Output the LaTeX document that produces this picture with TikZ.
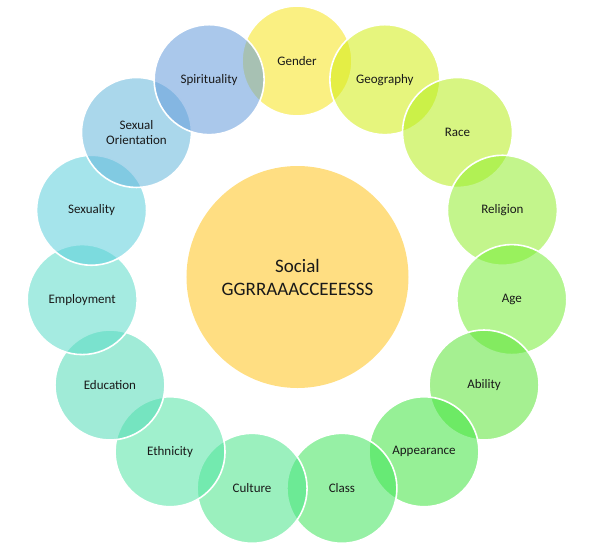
\documentclass[tikz,border=0pt]{standalone}
\usepackage{fontspec}
\setmainfont{Carlito}
\usetikzlibrary{calc}

\definecolor{hubyellow}{RGB}{255,222,130}
\definecolor{cgender}{RGB}{246,228,28}
\definecolor{cgeography}{RGB}{210,237,19}
\definecolor{crace}{RGB}{182,237,28}
\definecolor{creligion}{RGB}{146,237,46}
\definecolor{cage}{RGB}{119,237,55}
\definecolor{cability}{RGB}{91,228,55}
\definecolor{cappearance}{RGB}{64,228,64}
\definecolor{cclass}{RGB}{64,228,91}
\definecolor{cculture}{RGB}{73,228,137}
\definecolor{cethnicity}{RGB}{82,228,164}
\definecolor{ceducation}{RGB}{82,219,182}
\definecolor{cemployment}{RGB}{91,219,200}
\definecolor{csexuality}{RGB}{91,206,219}
\definecolor{corientation}{RGB}{100,182,219}
\definecolor{cspirituality}{RGB}{100,155,219}
\definecolor{labeltext}{RGB}{25,25,25}

\begin{document}
\begin{tikzpicture}[x=1pt,y=1pt,
    item/.style={circle,minimum size=110pt,inner sep=0pt,draw=white,line width=1.6pt,
      fill opacity=0.55,text opacity=1,text=labeltext,align=center,
      font=\fontsize{13}{15}\selectfont},
    hub/.style={circle,minimum size=222pt,inner sep=0pt,fill=hubyellow,text=labeltext,
      align=center,font=\fontsize{19}{23}\selectfont}]
  \useasboundingbox (-297,-275) rectangle (300,275);

  \node[hub] (social) at (0.5,-2) {Social\\GGRRAAACCEEESSS};

  % ring, each one drawn over the one before
  \foreach \a/\name/\txt in {90/gender/Gender, 66/geography/Geography, 42/race/Race,
      18/religion/Religion, -6/age/Age, -30/ability/Ability, -54/appearance/Appearance,
      -78/class/Class, -102/culture/Culture, -126/ethnicity/Ethnicity,
      -150/education/Education, -174/employment/Employment, 162/sexuality/Sexuality,
      138/orientation/{Sexual\\Orientation}, 114/spirituality/Spirituality}
    \node[item,fill=c\name] (\name) at ($(0,-2)+(\a:216)$) {\txt};

\end{tikzpicture}
\end{document}
